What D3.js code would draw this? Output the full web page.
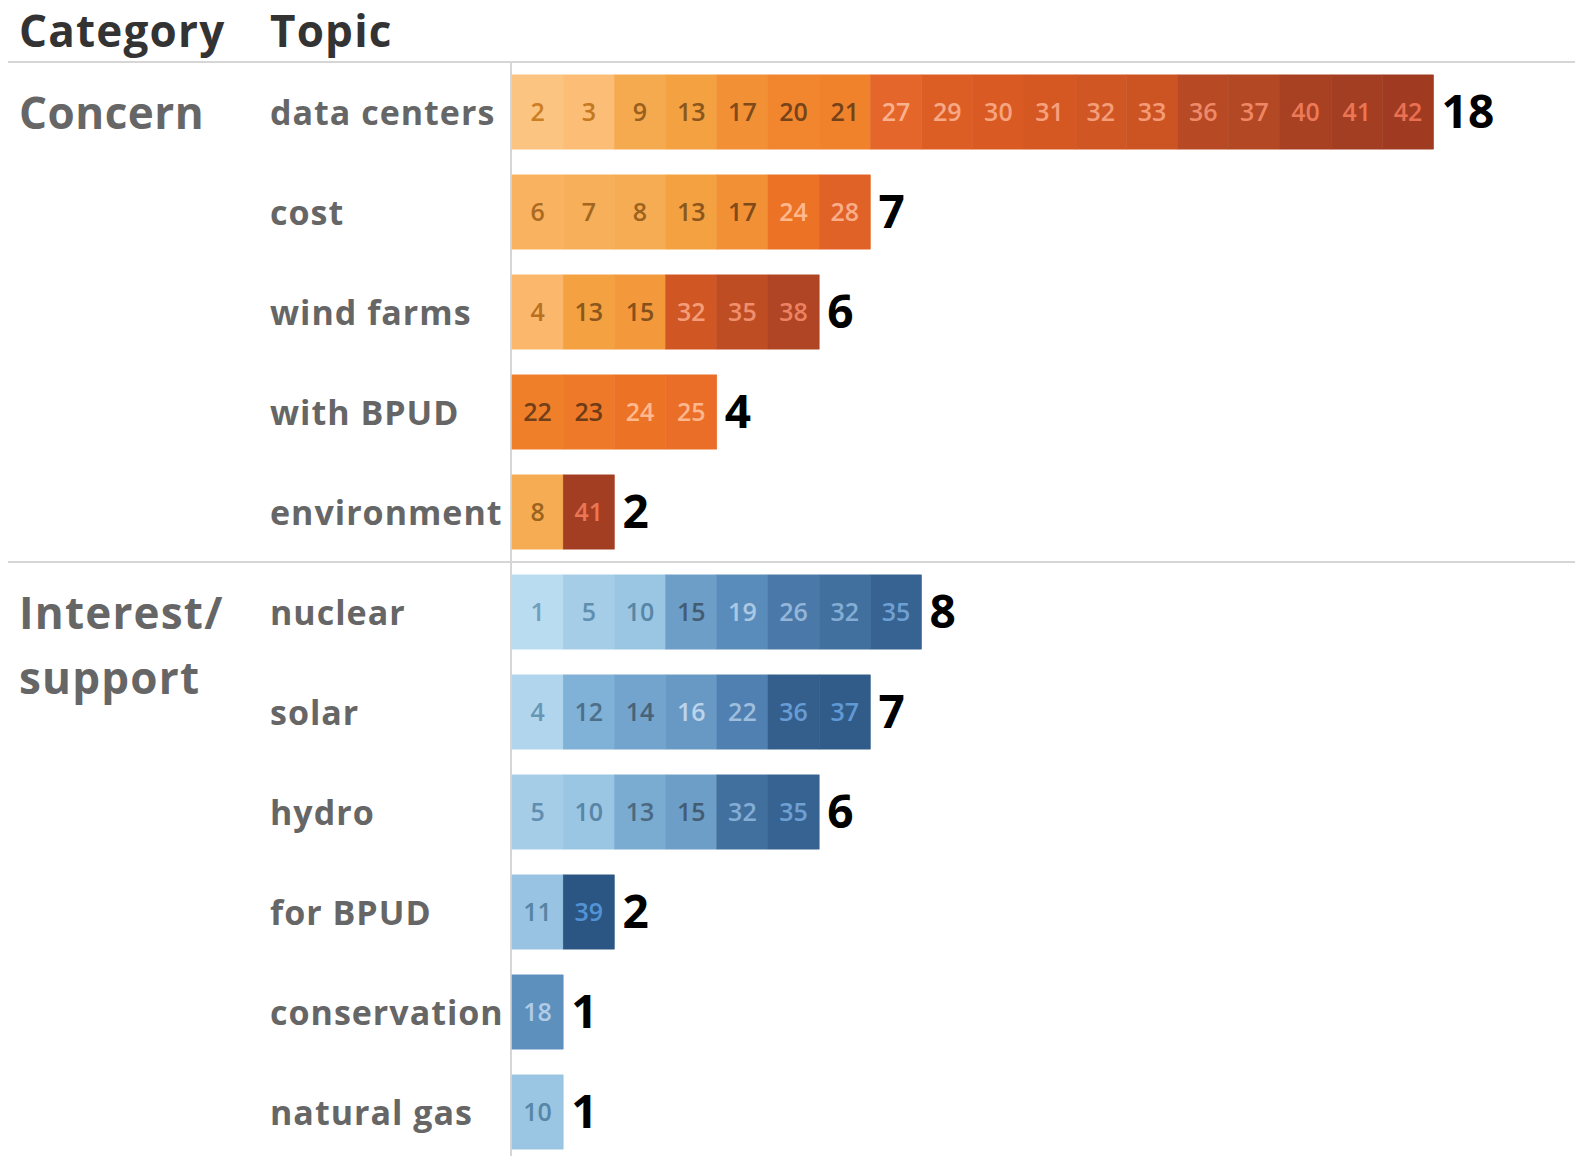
<!DOCTYPE html>
<html>
<head>
<meta charset="utf-8">
<script src="https://cdn.jsdelivr.net/npm/d3@7"></script>
<style>
body{margin:0;background:#fff;}
text{font-family:"Open Sans","Noto Sans",sans-serif;}
</style>
</head>
<body>
<svg id="chart" width="1575" height="1156"></svg>
<script>
//数据
var categories = ["Concern", "Interest/support"];
var topics = ["data centers","cost","wind farms","with BPUD","environment",
	"nuclear","solar","hydro","for BPUD","conservation","natural gas"];
var topicCategory = ["Concern","Concern","Concern","Concern","Concern",
	"Interest/support","Interest/support","Interest/support","Interest/support","Interest/support","Interest/support"];
var ids = [
	[2,3,9,13,17,20,21,27,29,30,31,32,33,36,37,40,41,42],
	[6,7,8,13,17,24,28],
	[4,13,15,32,35,38],
	[22,23,24,25],
	[8,41],
	[1,5,10,15,19,26,32,35],
	[4,12,14,16,22,36,37],
	[5,10,13,15,32,35],
	[11,39],
	[18],
	[10]
];

var width = 1575, height = 1156;
var top0 = 62, rowStep = 100, axisX = 512, cellW = 51.2;

var svg = d3.select("#chart");

//颜色
var orange = d3.scaleLinear()
	.domain([1, 4, 8, 13, 17, 22, 24, 27, 30, 33, 36, 42])
	.range(["#fdca8c","#fbb86c","#f6ac52","#f4a141","#f29035","#f07f2a","#ec7225","#e5662a","#d95a22","#cc5423","#b74a25","#a03b21"])
	.clamp(true);
var blue = d3.scaleLinear()
	.domain([1, 4, 5, 11, 12, 15, 18, 22, 26, 32, 36, 39])
	.range(["#badcf1","#b0d5ed","#a6cde8","#98c3e2","#80b1d6","#6d9ec8","#5e90be","#4f80b1","#4a79a9","#41709f","#345f8d","#2b5683"])
	.clamp(true);

function cellColor(cat, v){
	return cat == "Concern" ? orange(v) : blue(v);
}
function labelColor(cat, v){
	var c = d3.hsl(cellColor(cat, v));
	var isOrange = cat == "Concern";
	var dark = isOrange ? (v <= 23) : (v <= 15);
	if(dark){
		c.l = c.l - (isOrange ? 0.28 : 0.25);
		c.s = c.s * (isOrange ? 0.75 : 0.55);
	}else{
		c.l = Math.min(0.9, c.l + 0.24);
		c.s = Math.min(1, c.s * 1.2);
	}
	return c.toString();
}

var y = d3.scaleBand()
	.domain(topics)
	.range([top0, top0 + rowStep * topics.length])
	.padding(0);
var barH = 74.3;

var x = d3.scaleLinear()
	.domain([0, 18])
	.range([axisX, axisX + 18 * cellW]);

//网格线
svg.append("line")
	.attr("x1", 8).attr("x2", width)
	.attr("y1", top0).attr("y2", top0)
	.attr("stroke", "#d6d6d6").attr("stroke-width", 2);
svg.append("line")
	.attr("x1", 8).attr("x2", width)
	.attr("y1", y("nuclear")).attr("y2", y("nuclear"))
	.attr("stroke", "#d6d6d6").attr("stroke-width", 2);
svg.append("line")
	.attr("x1", axisX - 1).attr("x2", axisX - 1)
	.attr("y1", top0).attr("y2", height)
	.attr("stroke", "#d6d6d6").attr("stroke-width", 2);

//表头
svg.append("text")
	.attr("x", 19).attr("y", 47)
	.attr("font-size", 44).attr("font-weight", 700)
	.attr("letter-spacing", 1.2)
	.attr("fill", "#333")
	.text("Category");
svg.append("text")
	.attr("x", 270).attr("y", 47)
	.attr("font-size", 44).attr("font-weight", 700)
	.attr("letter-spacing", 1.2)
	.attr("fill", "#333")
	.text("Topic");

//类别
svg.append("text")
	.attr("x", 19).attr("y", y("data centers") + rowStep/2 + 17)
	.attr("font-size", 44).attr("font-weight", 700)
	.attr("letter-spacing", 0.5)
	.attr("fill", "#666")
	.text("Concern");
var cat2 = svg.append("text")
	.attr("x", 19).attr("y", y("nuclear") + rowStep/2 + 17)
	.attr("font-size", 44).attr("font-weight", 700)
	.attr("letter-spacing", 1.2)
	.attr("fill", "#666");
cat2.append("tspan").attr("x", 19).text("Interest/");
cat2.append("tspan").attr("x", 19).attr("dy", 65).text("support");

//主题
svg.selectAll("text.topic")
	.data(topics)
	.enter()
	.append("text")
	.attr("class", "topic")
	.attr("x", 270)
	.attr("y", function(d){ return y(d) + rowStep/2 + 13; })
	.attr("font-size", 34).attr("font-weight", 700)
	.attr("letter-spacing", 1)
	.attr("fill", "#666")
	.text(function(d){ return d; });

//格子
var rows = svg.selectAll("g.row")
	.data(topics)
	.enter()
	.append("g")
	.attr("class", "row")
	.attr("transform", function(d){ return "translate(0," + (y(d) + (rowStep - barH)/2) + ")"; });

rows.each(function(t, ti){
	var g = d3.select(this);
	var cat = topicCategory[ti];
	var cells = ids[ti];
	g.selectAll("rect")
		.data(cells)
		.enter()
		.append("rect")
		.attr("x", function(d, i){ return x(i); })
		.attr("y", 0)
		.attr("width", function(d, i){ return x(i+1) - x(i); })
		.attr("height", barH)
		.attr("fill", function(d){ return cellColor(cat, d); })
		.attr("stroke", function(d){ return cellColor(cat, d); })
		.attr("stroke-width", 0.5);
	g.selectAll("text.cell")
		.data(cells)
		.enter()
		.append("text")
		.attr("class", "cell")
		.attr("x", function(d, i){ return (x(i) + x(i+1))/2; })
		.attr("y", barH/2 + 9)
		.attr("text-anchor", "middle")
		.attr("font-size", 25).attr("font-weight", 600)
		.attr("fill", function(d){ return labelColor(cat, d); })
		.text(function(d){ return d; });
	g.append("text")
		.attr("x", x(cells.length) + 8)
		.attr("y", barH/2 + 16)
		.attr("font-size", 46).attr("font-weight", 700)
		.attr("fill", "#000")
		.text(cells.length);
});
</script>
</body>
</html>
